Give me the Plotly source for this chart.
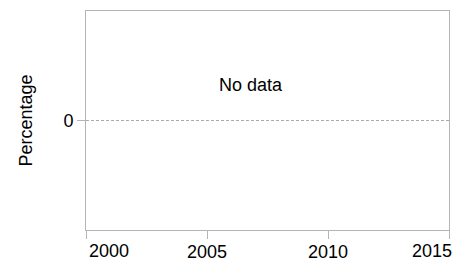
import plotly.graph_objects as go

years = []
percentages = []
x_ticks = [2000, 2005, 2010, 2015]
x_labels = ["2000", "2005", "2010", "2015"]
y_ticks = [0]
message = "No data"

fig = go.Figure()
fig.add_trace(go.Scatter(x=years, y=percentages, mode="lines", showlegend=False))

axis_color = "#b5b5b5"
font = dict(family="Liberation Sans, Arial, sans-serif", size=18, color="#000000")

# inner labels drawn by axis; edge labels nudged inward as annotations
inner_text = ["" if i in (0, len(x_labels) - 1) else t for i, t in enumerate(x_labels)]

annotations = [dict(x=2006.8, y=0.32, xref="x", yref="y", text=message,
                    showarrow=False, font=font)]
annotations.append(dict(x=x_ticks[0], y=0, xref="x", yref="paper", text=x_labels[0],
                        showarrow=False, font=font, xanchor="left", yanchor="middle",
                        height=18, valign="middle", borderpad=0,
                        xshift=2, yshift=-21))
annotations.append(dict(x=x_ticks[-1], y=0, xref="x", yref="paper", text=x_labels[-1],
                        showarrow=False, font=font, xanchor="right", yanchor="middle",
                        height=18, valign="middle", borderpad=0,
                        xshift=4, yshift=-21))

fig.update_layout(
    width=459, height=261,
    margin=dict(l=86, r=10, t=11, b=31, autoexpand=False),
    paper_bgcolor="white", plot_bgcolor="white",
    font=font,
    xaxis=dict(range=[2000, 2015], tickvals=x_ticks, ticktext=inner_text,
               ticks="outside", ticklen=8, ticklabelstandoff=-3,
               tickcolor=axis_color, showline=True, linecolor=axis_color, mirror=True,
               showgrid=False, zeroline=False, tickfont=font, automargin=False),
    yaxis=dict(range=[-1, 1], tickvals=y_ticks, ticks="outside", ticklen=8,
               tickcolor=axis_color, showline=True, linecolor=axis_color, mirror=True,
               showgrid=True, gridcolor="#aaaaaa", griddash="3px,2px", gridwidth=1,
               zeroline=False, title=dict(text="Percentage", font=font, standoff=26),
               tickfont=font, automargin=False),
    annotations=annotations,
)

fig.write_html("out.html", config={"displayModeBar": False},
               post_script="document.body.style.margin='0';document.body.style.overflow='hidden';")
